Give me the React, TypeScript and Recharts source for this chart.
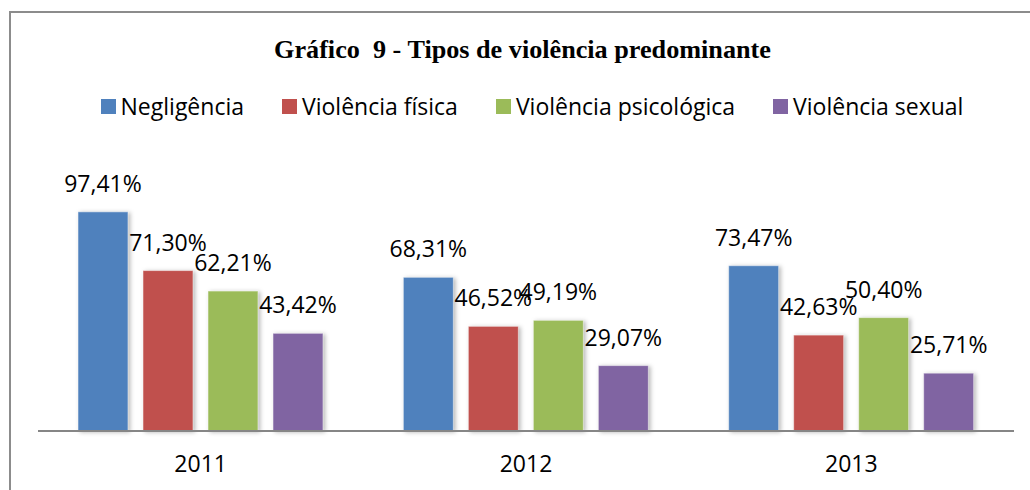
import { Bar, BarChart, LabelList, XAxis, YAxis } from "recharts";

const years = ["2011", "2012", "2013"];
const negligencia = [97.41, 68.31, 73.47];
const violenciaFisica = [71.3, 46.52, 42.63];
const violenciaPsicologica = [62.21, 49.19, 50.4];
const violenciaSexual = [43.42, 29.07, 25.71];

const series = [
  { key: "negligencia", name: "Negligência", color: "#4F81BD" },
  { key: "fisica", name: "Violência física", color: "#C0504D" },
  { key: "psicologica", name: "Violência psicológica", color: "#9BBB59" },
  { key: "sexual", name: "Violência sexual", color: "#8064A2" },
];

const data = years.map((year, i) => ({
  year,
  negligencia: negligencia[i],
  fisica: violenciaFisica[i],
  psicologica: violenciaPsicologica[i],
  sexual: violenciaSexual[i],
}));

const FONT = "'Open Sans', sans-serif";

const pct = (v: unknown) => `${Number(v).toFixed(2).replace(".", ",")}%`;

// excel-ish bar with a soft shadow on the right
function ShadowBar(props: any) {
  const { x, y, width, height, fill } = props;
  if (!height) return null;
  return (
    <rect
      x={x}
      y={y}
      width={width}
      height={height}
      fill={fill}
      stroke="#ffffff"
      strokeOpacity={0.5}
      strokeWidth={1}
      style={{ filter: "drop-shadow(2px 1px 2px rgba(0,0,0,0.28))" }}
    />
  );
}

export default function App() {
  return (
    <div
      style={{
        position: "absolute",
        left: 0,
        top: 0,
        width: 1030,
        height: 490,
        background: "#fff",
        overflow: "hidden",
        fontFamily: FONT,
      }}
    >
      {/* frame, right/bottom edges sit outside the picture */}
      <div
        style={{
          position: "absolute",
          left: 9,
          top: 11,
          width: 1040,
          height: 500,
          border: "2px solid #8c8c8c",
        }}
      />
      <div
        style={{
          position: "absolute",
          left: 0,
          top: 37,
          width: 1045,
          textAlign: "center",
          fontFamily: "'Liberation Serif', 'Times New Roman', serif",
          fontWeight: "bold",
          fontSize: 26.2,
          lineHeight: "26px",
          whiteSpace: "pre",
          color: "#000",
        }}
      >
        {"Gráfico  9 - Tipos de violência predominante"}
      </div>
      <div
        style={{
          position: "absolute",
          left: 0,
          top: 95,
          width: 1064,
          display: "flex",
          justifyContent: "center",
          fontSize: 23,
          lineHeight: "23px",
          color: "#000",
        }}
      >
        {series.map((s, i) => (
          <div
            key={s.key}
            style={{
              display: "flex",
              alignItems: "center",
              marginRight: i < series.length - 1 ? 38 : 0,
            }}
          >
            <span
              style={{
                display: "inline-block",
                width: 15,
                height: 15,
                background: s.color,
                marginRight: 5,
              }}
            />
            <span>{s.name}</span>
          </div>
        ))}
      </div>
      <div style={{ position: "absolute", left: 0, top: 0 }}>
        <BarChart
          width={1030}
          height={490}
          data={data}
          margin={{ top: 206, right: 16, bottom: 0, left: 38 }}
          barSize={50}
          barGap={15}
        >
          <XAxis
            dataKey="year"
            height={59}
            axisLine={{ stroke: "#868686", strokeWidth: 2 }}
            tickLine={false}
            tickSize={0}
            tickMargin={25}
            tick={{ fill: "#000", fontSize: 23, fontFamily: FONT }}
          />
          <YAxis hide domain={[0, 100]} />
          {series.map((s) => (
            <Bar
              key={s.key}
              dataKey={s.key}
              name={s.name}
              fill={s.color}
              shape={ShadowBar}
              isAnimationActive={false}
            >
              <LabelList
                dataKey={s.key}
                position="top"
                offset={20}
                formatter={pct}
                style={{ fill: "#000", fontSize: 23, fontFamily: FONT }}
              />
            </Bar>
          ))}
        </BarChart>
      </div>
    </div>
  );
}
